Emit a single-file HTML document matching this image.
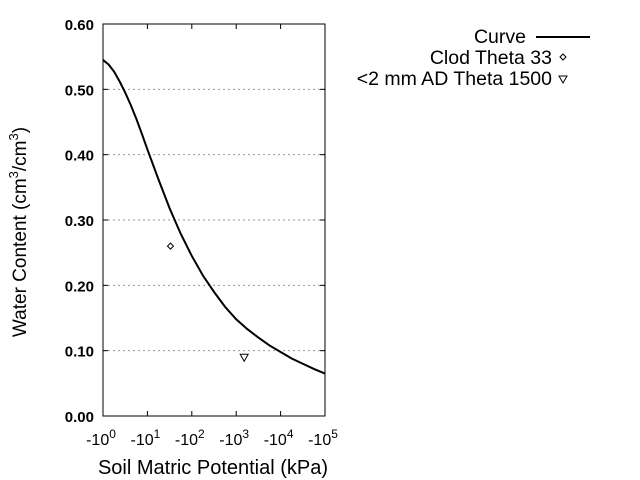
<!DOCTYPE html>
<html><head><meta charset="utf-8"><style>
body{margin:0;background:#fff;}
svg{display:block;font-family:"Liberation Sans",Arial,sans-serif;}
</style></head><body>
<svg id="chart" width="640" height="480">
<g id="grid"></g><g id="axes"></g><g id="marks"></g>
<text x="26" y="232" font-size="19" text-anchor="middle" transform="rotate(-90 26 232)">Water Content (cm<tspan dy="-8" font-size="13">3</tspan><tspan dy="8">/cm</tspan><tspan dy="-8" font-size="13">3</tspan><tspan dy="8">)</tspan></text>
<text x="213" y="474" font-size="20" text-anchor="middle">Soil Matric Potential (kPa)</text>
<g>
<text x="526" y="43" font-size="19.5" text-anchor="end">Curve</text>
<line x1="536" y1="37" x2="590" y2="37" stroke="#000" stroke-width="2"/>
<text x="552" y="64" font-size="19.5" text-anchor="end">Clod Theta 33</text>
<path d="M563,54 L566,57 L563,60 L560,57 Z" fill="none" stroke="#000"/>
<text x="552" y="85" font-size="19.5" text-anchor="end">&lt;2 mm AD Theta 1500</text>
<path d="M559,76 L567,76 L563,83 Z" fill="none" stroke="#000"/>
</g>
</svg>
<script>
const curveLogH=[0,0.125,0.25,0.375,0.5,0.625,0.75,0.875,1,1.25,1.5,1.75,2,2.25,2.5,2.75,3,3.25,3.5,3.75,4,4.25,4.5,4.75,5];
const curveTheta=[0.545,0.538,0.527,0.512,0.495,0.476,0.455,0.432,0.408,0.362,0.318,0.279,0.245,0.215,0.19,0.167,0.148,0.133,0.12,0.108,0.098,0.088,0.08,0.072,0.065];
const clodLogH=[1.52];const clodTheta=[0.26];
const adLogH=[3.18];const adTheta=[0.09];
const yTicks=[0,0.1,0.2,0.3,0.4,0.5,0.6];
const yTickLabels=["0.00","0.10","0.20","0.30","0.40","0.50","0.60"];
const xTicks=[0,1,2,3,4,5];
const L=103,R=325,T=24,B=416;
const X=v=>L+(v-0)/5*(R-L);
const Y=v=>B-(v/0.6)*(B-T);
const NS="http://www.w3.org/2000/svg";
function mk(tag,attrs,parent,txt){const e=document.createElementNS(NS,tag);for(const k in attrs)e.setAttribute(k,attrs[k]);if(txt!==undefined)e.textContent=txt;document.getElementById(parent).appendChild(e);return e;}
yTicks.forEach((v,i)=>{
  if(v>0&&v<0.6){const g=mk('line',{x1:L,x2:R,y1:Y(v),y2:Y(v),stroke:'#999','stroke-dasharray':'2,3'},'grid');
  
  }
  const t1=mk('line',{x1:L,x2:L+5,y1:Y(v),y2:Y(v),stroke:'#000'},'axes');
  
  
  const t2=mk('line',{x1:R-5,x2:R,y1:Y(v),y2:Y(v),stroke:'#000'},'axes');
  
  
  const lb=mk('text',{x:94,y:Y(v)+6,'font-size':15,'font-weight':'bold','text-anchor':'end'},'axes',yTickLabels[i]);
  
  
});
xTicks.forEach(v=>{
  const t1=mk('line',{x1:X(v),x2:X(v),y1:B,y2:B-5,stroke:'#000'},'axes');
  
  
  const t2=mk('line',{x1:X(v),x2:X(v),y1:T,y2:T+5,stroke:'#000'},'axes');
  
  
  const lb=mk('text',{x:X(v)-2,y:445,'font-size':16,'text-anchor':'middle'},'axes');
  
  
  lb.innerHTML='-10<tspan dy="-7" font-size="12">'+v+'</tspan>';
});
const fr=mk('rect',{x:L,y:T,width:R-L,height:B-T,fill:'none',stroke:'#000'},'axes');


const pts=curveLogH.map((h,i)=>X(h)+','+Y(curveTheta[i])).join(' ');
const cl=mk('polyline',{points:pts,fill:'none',stroke:'#000','stroke-width':2},'marks');


clodLogH.forEach((h,i)=>{const x=X(h),y=Y(clodTheta[i]);
  const m=mk('path',{d:`M${x},${y-3}L${x+3},${y}L${x},${y+3}L${x-3},${y}Z`,fill:'none',stroke:'#000'},'marks');
  
  });
adLogH.forEach((h,i)=>{const x=X(h),y=Y(adTheta[i]);
  const m=mk('path',{d:`M${x-4},${y-3}L${x+4},${y-3}L${x},${y+4}Z`,fill:'none',stroke:'#000'},'marks');
  
  });
</script>
</body></html>
